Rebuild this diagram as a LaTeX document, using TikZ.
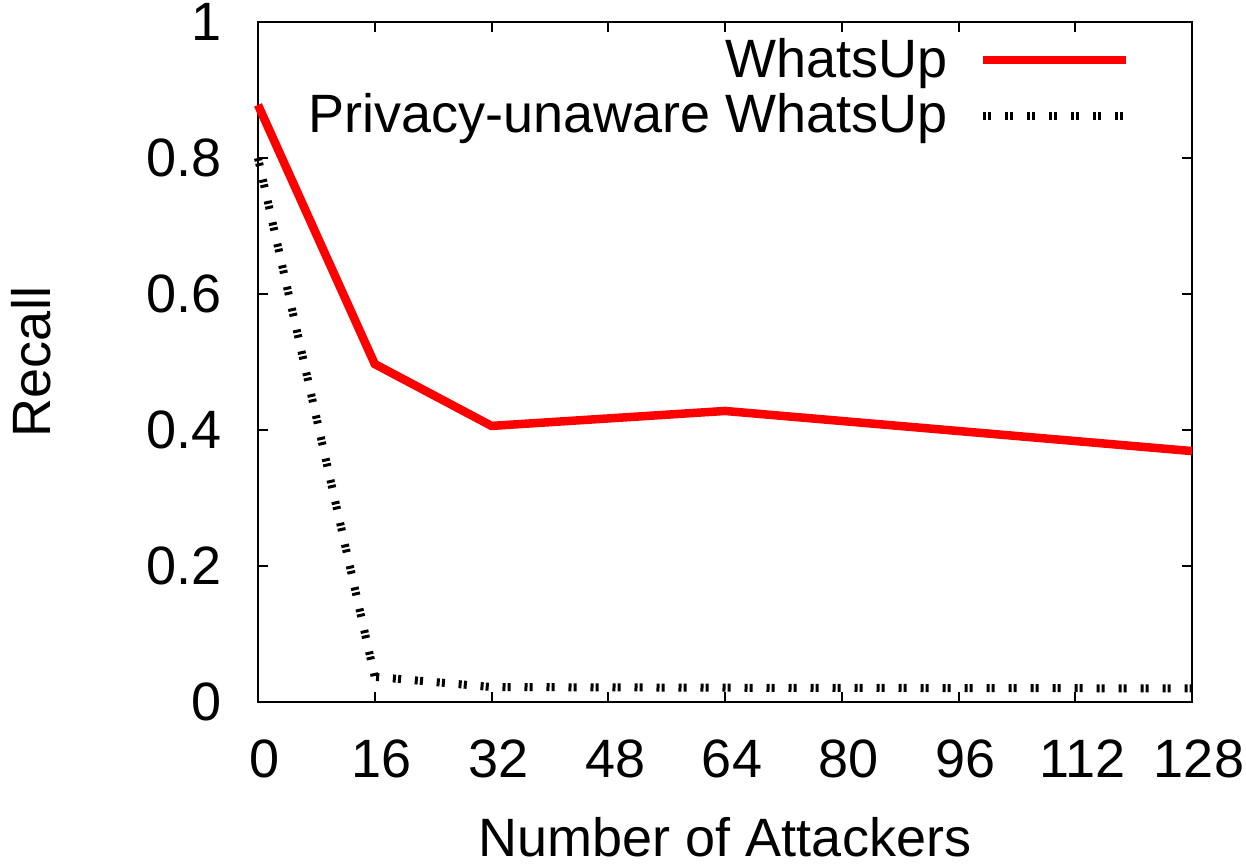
\documentclass[tikz,border=0pt]{standalone}
\usepackage{fontspec}
\setmainfont{Liberation Sans}
\begin{document}
\begin{tikzpicture}[x=1pt,y=1pt,
  lbl/.style={inner sep=0pt, font=\fontsize{54}{60}\selectfont},
  frame/.style={line width=2.5pt},
  tickmark/.style={line width=2pt},
  seriesA/.style={draw={rgb,255:red,255;green,0;blue,0}, line width=8.5pt},
  seriesB/.style={draw=black, line width=8pt,
    dash pattern=on 3pt off 2.2pt on 3pt off 13.8pt}]
\useasboundingbox (0,0) rectangle (1246,864);

% plot area: x in attackers (0..128), y in recall (0..1)
\begin{scope}[shift={(258,162)}, x=7.296875pt, y=680pt]
  \draw[frame] (0,0) rectangle (128,1);

  % y ticks on both sides, labels on the left
  \foreach \v/\t [count=\i] in {0/0,0.2/0.2,0.4/0.4,0.6/0.6,0.8/0.8,1/1} {
    \draw[tickmark] (0,\v) -- ++(10pt,0);
    \draw[tickmark] (128,\v) -- ++(-10pt,0);
    \node[lbl, anchor=east] (yl\i) at ([xshift=-36pt]0,\v) {\t};
  }
  % x ticks on top and bottom, labels below
  \foreach \x [count=\i] in {0,16,32,48,64,80,96,112,128} {
    \draw[tickmark] (\x,0) -- ++(0,10pt);
    \draw[tickmark] (\x,1) -- ++(0,-10pt);
    \node[lbl, anchor=north] (xl\i) at ([xshift=7pt,yshift=-38pt]\x,0) {\x};
  }

  % data points
  \coordinate (a0) at (0,0.878);
  \coordinate (a1) at (16,0.497);
  \coordinate (a2) at (32,0.406);
  \coordinate (a3) at (64,0.428);
  \coordinate (a4) at (128,0.369);

  \coordinate (b0) at (0,0.800);
  \coordinate (b1) at (16,0.037);
  \coordinate (b2) at (32,0.022);
  \coordinate (b3) at (64,0.021);
  \coordinate (b4) at (128,0.020);

  \draw[seriesB] (b0) -- (b1) -- (b2) -- (b3) -- (b4);
  \draw[seriesA] (a0) -- (a1) -- (a2) -- (a3) -- (a4);
\end{scope}

% axis titles
\node[lbl, rotate=90] (ylabel) at (31,502) {Recall};
\node[lbl] (xlabel) at (725,27) {Number of Attackers};

% key
\node[lbl, anchor=base east] (keyA) at (948,786) {WhatsUp};
\node[lbl, anchor=base east] (keyB) at (948,731) {Privacy-unaware WhatsUp};
\coordinate (kA1) at (983,804);
\coordinate (kA2) at (1126,804);
\coordinate (kB1) at (983,748);
\coordinate (kB2) at (1126,748);
\draw[seriesA] (kA1) -- (kA2);
\draw[seriesB] (kB1) -- (kB2);
\end{tikzpicture}
\end{document}
